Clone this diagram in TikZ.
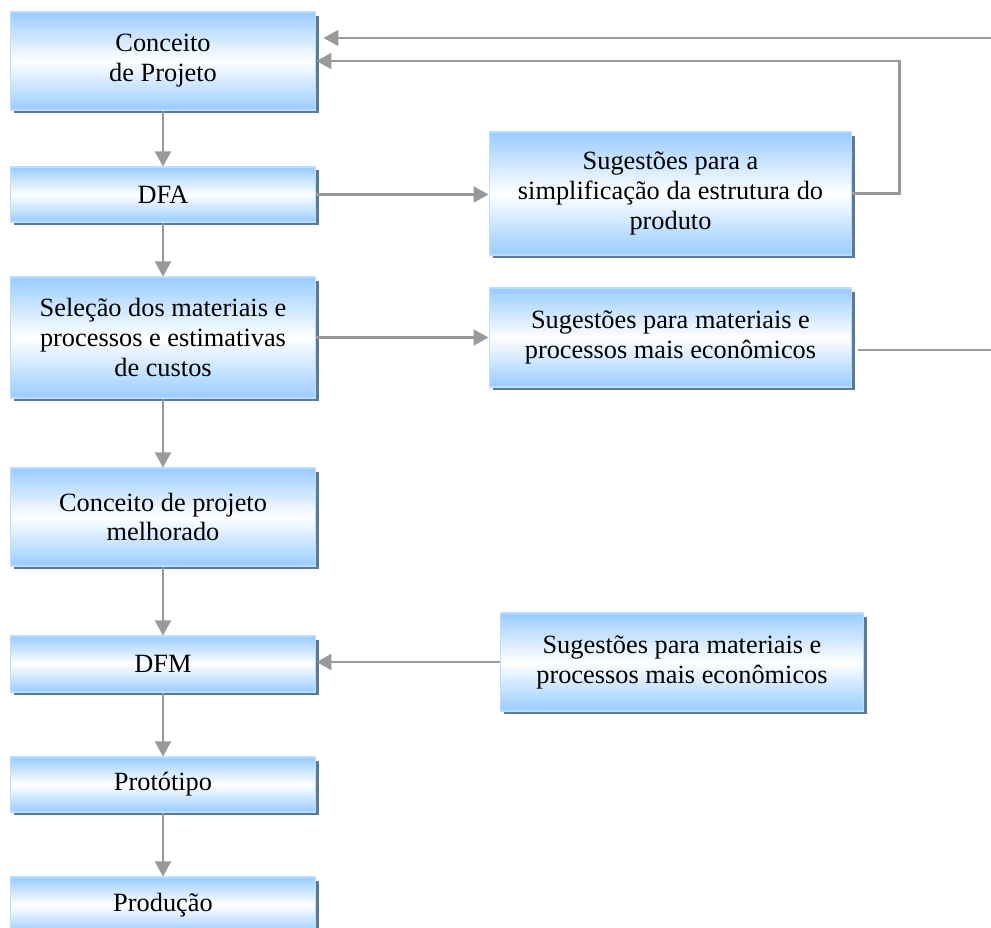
\documentclass[tikz,border=0pt]{standalone}
\usepackage{fontspec}
\setmainfont{Liberation Serif}
\usepackage{tikz}
\usetikzlibrary{arrows.meta,shadows}
\definecolor{boxblue}{RGB}{153,204,255}
\definecolor{boxedge}{RGB}{185,222,255}
\definecolor{boxshadow}{RGB}{90,122,156}
\definecolor{arrowgray}{RGB}{153,153,153}
\tikzset{
  box/.style={draw=boxedge, line width=0.6pt, inner sep=0pt, align=center,
    top color=boxblue, bottom color=boxblue, middle color=white,
    drop shadow={shadow xshift=0.07cm, shadow yshift=-0.07cm, fill=boxshadow, opacity=1},
    font=\fontsize{15}{17}\selectfont},
  leftbox/.style={box, minimum width=6.12cm},
  rightbox/.style={box, minimum width=7.26cm},
  flow/.style={draw=arrowgray, line width=1.2pt, -{Triangle[length=0.3cm,width=0.32cm]}},
  line/.style={draw=arrowgray, line width=1.2pt}
}

\begin{document}
\begin{tikzpicture}[x=0.02cm, y=-0.02cm]
    \useasboundingbox (0,0) rectangle (991,928);
    \node[leftbox, minimum height=1.96cm] (concept) at (163,61) {Conceito\\de Projeto};
    \node[leftbox, minimum height=1.1cm] (dfa) at (163,194.5) {DFA};
    \node[leftbox, minimum height=2.42cm] (selecao) at (163,337.5) {Seleção dos materiais e\\processos e estimativas\\de custos};
    \node[leftbox, minimum height=1.96cm] (melhorado) at (163,517) {Conceito de projeto\\melhorado};
    \node[leftbox, minimum height=1.12cm] (dfm) at (163,664) {DFM};
    \node[leftbox, minimum height=1.1cm] (prototipo) at (163,784.5) {Protótipo};
    \node[leftbox, minimum height=1.12cm] (producao) at (163,905) {Produção};
    \node[rightbox, minimum height=2.46cm] (simplif) at (670.5,193.5) {Sugestões para a\\simplificação da estrutura do\\produto};
    \node[rightbox, minimum height=1.98cm] (materiais) at (670.5,337.5) {Sugestões para materiais e\\processos mais econômicos};
    \node[rightbox, minimum height=1.96cm] (materiaisdfm) at (682,662) {Sugestões para materiais e\\processos mais econômicos};
    \coordinate (topin) at (991,38);
    \coordinate (matout) at (991,350);
    \draw[flow] (concept.south) -- (dfa.north);
    \draw[flow] (dfa.south) -- (selecao.north);
    \draw[flow] (selecao.south) -- (melhorado.north);
    \draw[flow] (melhorado.south) -- (dfm.north);
    \draw[flow] (dfm.south) -- (prototipo.north);
    \draw[flow] (prototipo.south) -- (producao.north);
    \draw[flow] (dfa.east) -- (simplif.west |- dfa.east);
    \draw[flow] (selecao.east) -- (materiais.west);
    \draw[flow] (materiaisdfm.west) -- (dfm.east |- materiaisdfm.west);
    \draw[flow] (simplif.east) -- ++(47,0) |- (concept.east);
    \draw[flow] (topin) -- ([xshift=0.14cm]concept.east |- topin);
    \draw[line] ([xshift=0.12cm]materiais.east |- matout) -- (matout);
\end{tikzpicture}
\end{document}
